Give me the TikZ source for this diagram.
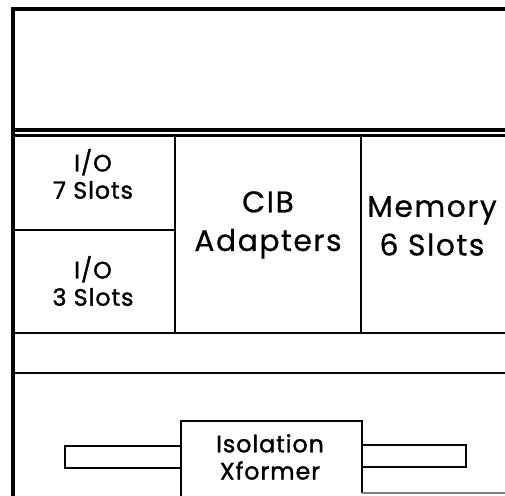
\documentclass[tikz,border=0pt]{standalone}
\usepackage{fontspec}
\setmainfont{Poppins}
\newfontfamily\ranurafont{Poppins}[LetterSpace=4,FakeBold=1.4]
\newfontfamily\grandefont{Poppins}[LetterSpace=5,FakeBold=0.6]

\begin{document}
\begin{tikzpicture}[x=0.02cm,y=-0.02cm,line width=1.3pt,
  ranura/.style={align=center,font=\ranurafont\fontsize{13.5}{15.5}\selectfont},
  grande/.style={align=center,font=\grandefont\fontsize{17}{22}\selectfont}]
  \useasboundingbox (0,0) rectangle (505,496);
  % marco exterior (abierto a la derecha y abajo)
  \draw[line width=2pt] (505,9) -- (13,9) -- (13,496);
  % doble linea bajo el hueco superior
  \draw[line width=2pt] (13,130) -- (505,130);
  \draw (13,135.5) -- (505,135.5);
  % fila de ranuras
  \draw (13,333) -- (505,333); \draw (13,373) -- (505,373);
  \draw (175,135.5) -- (175,333); \draw (361,135.5) -- (361,333);
  \draw (13,230) -- (175,230);
  \node[ranura] (io7) at (93,174){I/O\\7 Slots};
  \node[ranura] (io3) at (93,281){I/O\\3 Slots};
  \node[grande] (cib) at (268,225){CIB\\Adapters};
  \node[grande] (mem) at (432,226){Memory\\6 Slots};
  % transformador de aislamiento
  \draw (181,496) -- (181,421) -- (362,421) -- (362,493);
  \draw (65,446) rectangle (181,468);
  \draw (362,445) rectangle (466,467);
  \draw[gray,line width=0.7pt] (362,493) -- (505,493);
  \node[ranura] (xfmr) at (270,457){Isolation\\Xformer};
\end{tikzpicture}
\end{document}
